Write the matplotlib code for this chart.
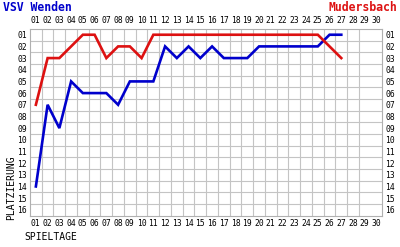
import numpy as np
import matplotlib
matplotlib.use("Agg")
import matplotlib.pyplot as plt

# matchdays and table positions
spieltage = list(range(1, 28))
wenden = [14, 7, 9, 5, 6, 6, 6, 7, 5, 5, 5, 2, 3, 2, 3, 2, 3, 3, 3, 2, 2, 2, 2, 2, 2, 1, 1]
mudersbach = [7, 3, 3, 2, 1, 1, 3, 2, 2, 3, 1, 1, 1, 1, 1, 1, 1, 1, 1, 1, 1, 1, 1, 1, 1, 2, 3]
x_labels = [f"{i:02d}" for i in range(1, 31)]
y_labels = [f"{i:02d}" for i in range(1, 17)]

mono = "DejaVu Sans Mono"
blue = "#0000cc"
red = "#dd1111"

fig = plt.figure(figsize=(4.0, 2.47), dpi=100)
ax = fig.add_axes([0.075, 0.127, 0.881, 0.756])

ax.plot(spieltage, wenden, color=blue, lw=1.9, solid_joinstyle="miter", zorder=3)
ax.plot(spieltage, mudersbach, color=red, lw=1.9, solid_joinstyle="miter", zorder=4)

ax.set_xlim(0.5, 30.5)
ax.set_ylim(16.5, 0.5)

ax.set_xticks(range(1, 31))
ax.set_xticklabels(x_labels, fontsize=5.8, family=mono)
ax.set_yticks(range(1, 17))
ax.set_yticklabels(y_labels, fontsize=5.8, family=mono)
# cell borders (the one between 29 and 30 is missing in the original)
ax.set_xticks(np.arange(1.5, 29, 1), minor=True)
ax.set_yticks(np.arange(1.5, 16, 1), minor=True)
ax.grid(which="minor", color="#c4c4c4", lw=0.8)
ax.grid(which="major", visible=False)
ax.tick_params(which="both", length=0)
ax.tick_params(axis="x", top=True, labeltop=True, pad=2.5)
ax.tick_params(axis="y", right=True, labelright=True, pad=2)
for side in ax.spines.values():
    side.set_color("#b0b0b0")
    side.set_linewidth(0.8)

fig.text(0.008, 0.968, "VSV Wenden", color=blue, fontsize=8.3, fontweight="bold",
         family=mono, ha="left", va="center")
fig.text(0.993, 0.968, "Mudersbach", color=red, fontsize=8.3, fontweight="bold",
         family=mono, ha="right", va="center")
fig.text(0.028, 0.11, "PLATZIERUNG", rotation=90, fontsize=7, family=mono,
         ha="center", va="bottom")
fig.text(0.062, 0.04, "SPIELTAGE", fontsize=7, family=mono, ha="left", va="center")

fig.savefig("out.png", dpi=100)
